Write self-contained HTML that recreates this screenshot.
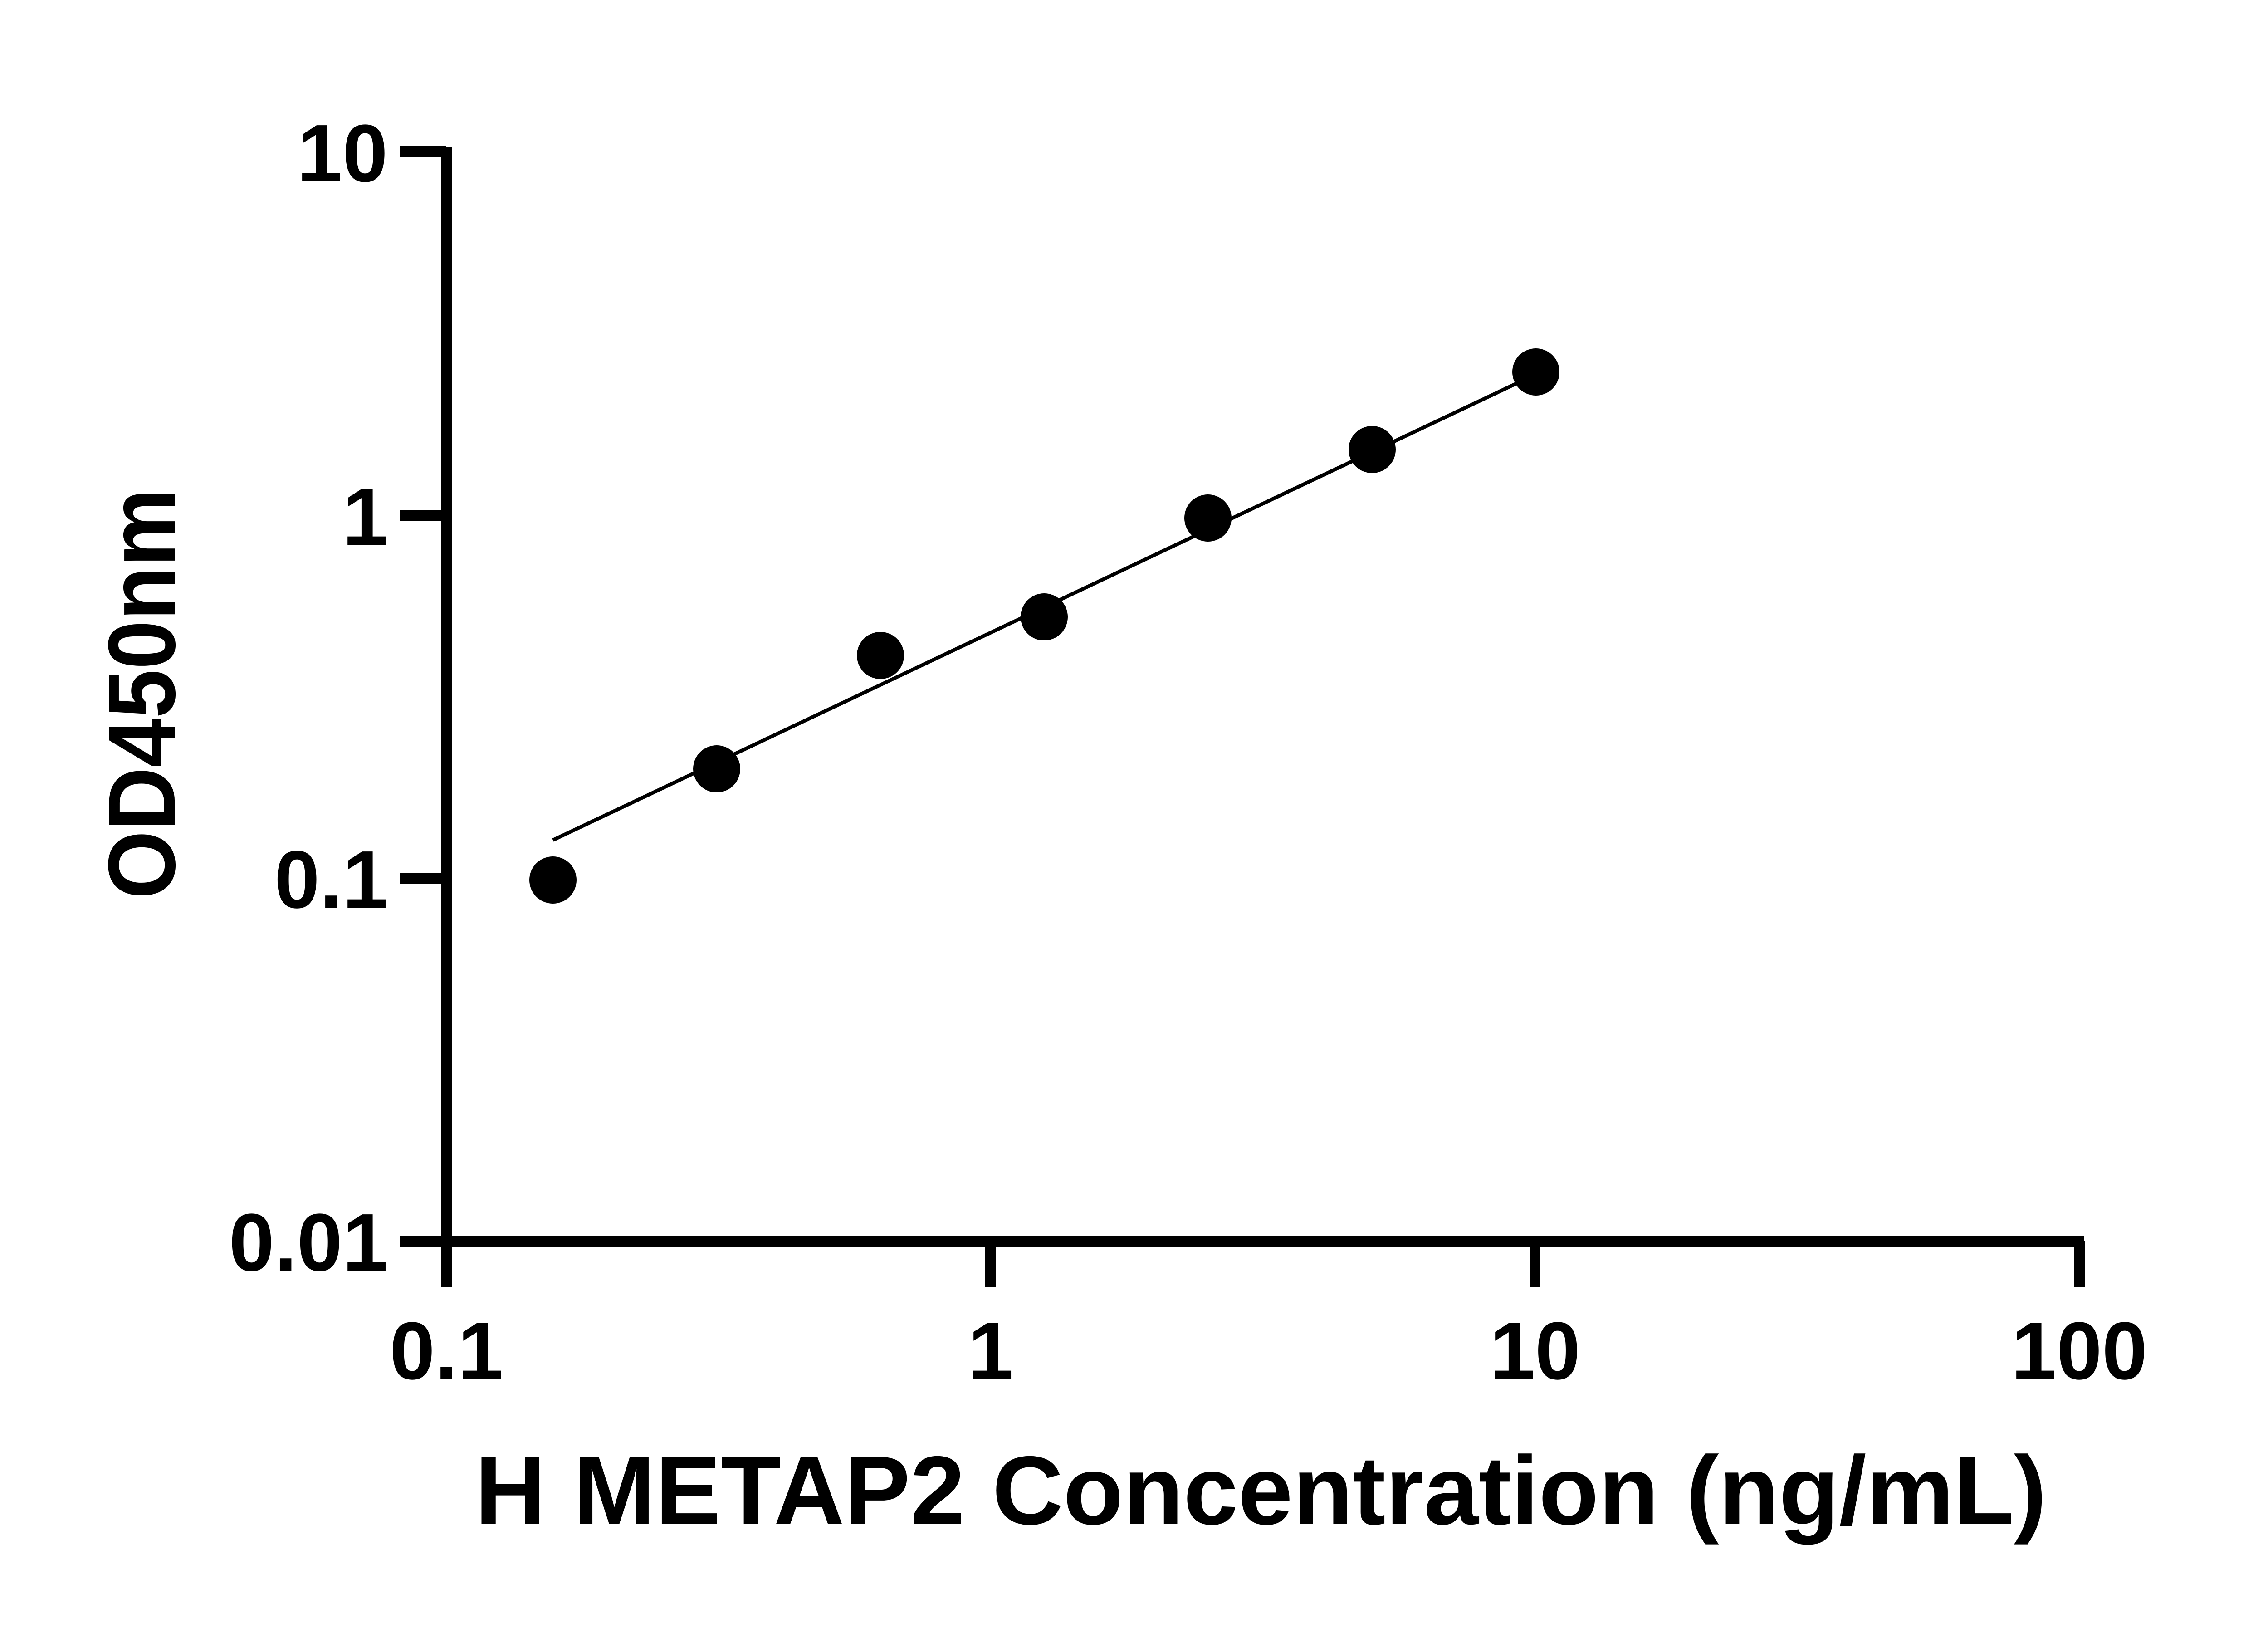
<!DOCTYPE html>
<html><head><meta charset="utf-8"><style>html,body{margin:0;padding:0;background:#fff}</style></head>
<body>
<svg width="5136" height="3600" viewBox="0 0 5136 3600" xmlns="http://www.w3.org/2000/svg" style="display:block">
<rect width="5136" height="3600" fill="#fff"/>
<g stroke="#000" fill="none">
<line x1="984" y1="325" x2="984" y2="2837" stroke-width="24"/>
<line x1="882" y1="2736" x2="4594" y2="2736" stroke-width="24"/>
<line x1="882" y1="334" x2="984" y2="334" stroke-width="24"/>
<line x1="882" y1="1136" x2="984" y2="1136" stroke-width="24"/>
<line x1="882" y1="1936" x2="984" y2="1936" stroke-width="24"/>
<line x1="2184" y1="2736" x2="2184" y2="2837" stroke-width="24"/>
<line x1="3384" y1="2736" x2="3384" y2="2837" stroke-width="24"/>
<line x1="4584" y1="2736" x2="4584" y2="2837" stroke-width="24"/>
<line x1="1219" y1="1852" x2="3384" y2="826" stroke-width="8"/>
</g>
<g fill="#000">
<circle cx="1219" cy="1940" r="52"/>
<circle cx="1580" cy="1695" r="52"/>
<circle cx="1941" cy="1445" r="52"/>
<circle cx="2302" cy="1360" r="52"/>
<circle cx="2663" cy="1142" r="52"/>
<circle cx="3025" cy="991" r="52"/>
<circle cx="3386" cy="820" r="52"/>
</g>
<g font-family="Liberation Sans, sans-serif" font-weight="bold" font-size="180" fill="#000">
<text x="855" y="400" text-anchor="end">10</text>
<text x="855" y="1201" text-anchor="end">1</text>
<text x="855" y="2001" text-anchor="end">0.1</text>
<text x="855" y="2801" text-anchor="end">0.01</text>
<text x="984" y="3040" text-anchor="middle">0.1</text>
<text x="2184" y="3040" text-anchor="middle">1</text>
<text x="3384" y="3040" text-anchor="middle">10</text>
<text x="4584" y="3040" text-anchor="middle">100</text>
<text x="1047" y="3360" font-size="215" textLength="3465" lengthAdjust="spacingAndGlyphs">H METAP2 Concentration (ng/mL)</text>
<text transform="translate(385,1982) rotate(-90)" font-size="210" textLength="905" lengthAdjust="spacingAndGlyphs">OD450nm</text>
</g>
</svg>
</body></html>
